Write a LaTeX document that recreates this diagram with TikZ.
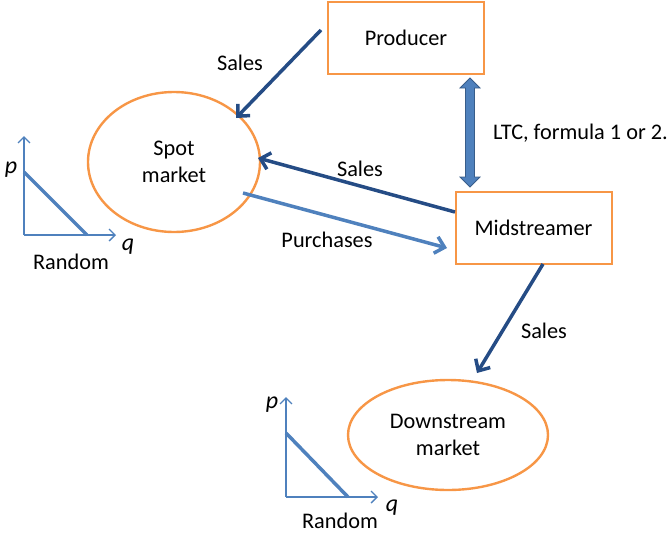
\documentclass[tikz,border=0pt]{standalone}
\usepackage{fontspec}
\setmainfont{Carlito}
\usetikzlibrary{shapes.geometric,arrows.meta}
\definecolor{boxor}{HTML}{F79646}
\definecolor{darkbl}{HTML}{254C85}
\definecolor{midbl}{HTML}{4F81BD}
\definecolor{edgebl}{HTML}{385D8A}
\begin{document}
\begin{tikzpicture}[x=1pt,y=-1pt,
  every node/.style={font=\fontsize{22.3}{27}\selectfont},
  boxnode/.style={draw=boxor,line width=2pt,minimum width=156pt,minimum height=72pt,inner sep=0pt},
  market/.style={draw=boxor,line width=2.4pt,ellipse,inner sep=0pt,align=center},
  flowdark/.style={draw=darkbl,line width=3.5pt,-{Straight Barb[length=9pt,width=17pt]}},
  flowlight/.style={draw=midbl,line width=3.5pt,-{Straight Barb[length=9pt,width=17pt]}},
  axis/.style={draw=midbl,line width=1.4pt,-{Straight Barb[length=6pt,width=12pt]}},
  demand/.style={draw=midbl,line width=3.5pt},
  lbl/.style={inner sep=0pt},
  ital/.style={inner sep=0pt,font=\fontsize{24}{27}\selectfont\itshape}
]
\useasboundingbox (0,0) rectangle (667,533);
% boxes
\node[boxnode] (prod) at (406,38) {Producer};
\node[boxnode] (mid) at (533.5,228) {Midstreamer};
\node[market,minimum width=172pt,minimum height=140pt] (spot) at (174,162) {Spot\\market};
\node[market,minimum width=200pt,minimum height=110pt] (down) at (448,435) {Downstream\\market};
% connector anchors
\coordinate (p1) at (321,30);
\coordinate (p2) at (236,118);
\coordinate (s1) at (455,212);
\coordinate (s2) at (258,158);
\coordinate (u1) at (243,193);
\coordinate (u2) at (447,248);
\coordinate (d1) at (543,264);
\coordinate (d2) at (477,373);
\draw[flowdark] (p1) -- (p2);
\draw[flowdark] (s1) -- (s2);
\draw[flowlight] (u1) -- (u2);
\draw[flowdark] (d1) -- (d2);
% double block arrow
\draw[fill=midbl,draw=edgebl,line width=0.8pt]
  (470,78) -- (480,88) -- (474.5,88) -- (474.5,177) -- (480,177) -- (470,187)
  -- (460,177) -- (465.5,177) -- (465.5,88) -- (460,88) -- cycle;
% labels
\node[lbl] (l1) at (240,63) {Sales};
\node[lbl,anchor=west] (l2) at (493,133) {LTC, formula 1 or 2.};
\node[lbl] (l3) at (360,169) {Sales};
\node[lbl] (l4) at (327,240) {Purchases};
\node[lbl] (l5) at (544,331) {Sales};
% left graph
\coordinate (ao) at (24,235);
\coordinate (ay) at (24,136);
\coordinate (ax) at (116,235);
\draw[axis] (ao) -- (ay);
\draw[axis] (ao) -- (ax);
\coordinate (da) at (24,172);
\coordinate (db) at (87,235);
\draw[demand] (da) -- (db);
\node[ital] (pa) at (11,170) {p};
\node[ital] (qa) at (128,247) {q};
\node[lbl] (ra) at (71,262) {Random};
% bottom graph
\coordinate (bo) at (286,497);
\coordinate (by) at (286,397);
\coordinate (bx) at (378,497);
\draw[axis] (bo) -- (by);
\draw[axis] (bo) -- (bx);
\coordinate (dc) at (286,433);
\coordinate (dd) at (348,497);
\draw[demand] (dc) -- (dd);
\node[ital] (pb) at (272,405) {p};
\node[ital] (qb) at (392,508) {q};
\node[lbl] (rb) at (340,521) {Random};
\end{tikzpicture}
\end{document}
